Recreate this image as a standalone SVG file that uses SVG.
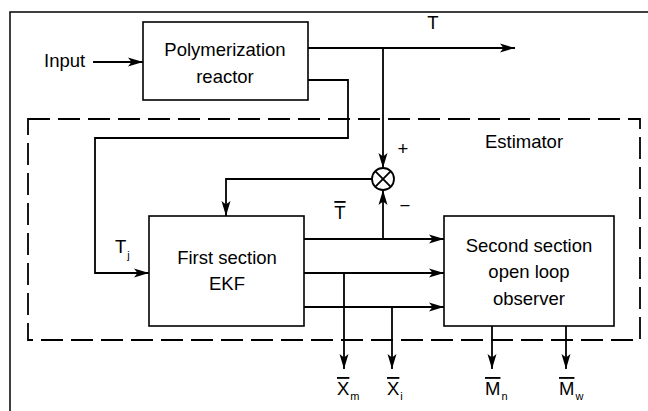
<svg xmlns="http://www.w3.org/2000/svg" width="648" height="411" viewBox="0 0 648 411">
<defs>
<marker id="arr" markerUnits="userSpaceOnUse" markerWidth="16" markerHeight="10" refX="15" refY="5" orient="auto">
<path d="M0,0.5 L15,5 L0,9.5 L3.5,5 Z" fill="#000"/>
</marker>
<style>
text{font-family:"Liberation Sans",Arial,sans-serif;font-size:18.5px;fill:#000}
.lbl{text-anchor:middle}
.sub{font-size:11px}
.ov{text-decoration:overline}
.box{fill:#fff;stroke:#000;stroke-width:1.6}
.c{fill:none;stroke:#000;stroke-width:1.8}
.ca{fill:none;stroke:#000;stroke-width:1.8;marker-end:url(#arr)}
</style>
</defs>
<rect width="648" height="411" fill="#fff"/>
<g id="frame">
<path d="M10,411 V12 H648" fill="none" stroke="#000" stroke-width="1.5"/>
</g>
<g id="estimator">
<rect x="28" y="119" width="612" height="221" fill="none" stroke="#000" stroke-width="1.8" stroke-dasharray="22,8"/>
<text class="lbl" x="524" y="148">Estimator</text>
</g>
<g id="connectors">
<path class="ca" d="M93,62 H143"/>
<path class="ca" d="M308,48 H515"/>
<path class="ca" d="M383,48 V168"/>
<path class="ca" d="M308,80 H348 V138 H95 V273 H149"/>
<path class="ca" d="M372,179 H226 V216"/>
<path class="ca" d="M304,239 H444"/>
<path class="ca" d="M304,273 H444"/>
<path class="ca" d="M304,307 H444"/>
<path class="ca" d="M383,239 V190"/>
<path class="ca" d="M344,273 V369"/>
<path class="ca" d="M392,307 V369"/>
<path class="ca" d="M492,326 V369"/>
<path class="ca" d="M566,326 V369"/>
</g>
<g id="input">
<text x="44" y="67">Input</text>
</g>
<g id="reactor">
<rect class="box" x="143" y="22" width="165" height="78"/>
<text class="lbl" x="225" y="56">Polymerization</text>
<text class="lbl" x="225" y="83">reactor</text>
</g>
<g id="sum">
<circle cx="383" cy="179" r="11" fill="#fff" stroke="#000" stroke-width="1.8"/>
<path class="c" d="M375.2,171.2 L390.8,186.8 M390.8,171.2 L375.2,186.8"/>
<text class="lbl" x="403" y="155">+</text>
<text class="lbl" x="405" y="212">−</text>
</g>
<g id="ekf">
<rect class="box" x="149" y="216" width="155" height="110"/>
<text class="lbl" x="227" y="264">First section</text>
<text class="lbl" x="227" y="290">EKF</text>
</g>
<g id="observer">
<rect class="box" x="444" y="216" width="170" height="110"/>
<text class="lbl" x="529" y="252">Second section</text>
<text class="lbl" x="529" y="278">open loop</text>
<text class="lbl" x="529" y="305">observer</text>
</g>
<g id="labels">
<text class="lbl" x="433" y="29">T</text>
<text x="115" y="253">T<tspan class="sub" dx="1" dy="6">j</tspan></text>
<text class="lbl" x="340" y="219"><tspan class="ov">T</tspan></text>
<text x="337" y="395"><tspan class="ov">X</tspan><tspan class="sub" dx="1" dy="5">m</tspan></text>
<text x="387" y="395"><tspan class="ov">X</tspan><tspan class="sub" dx="1" dy="5">i</tspan></text>
<text x="485" y="395"><tspan class="ov">M</tspan><tspan class="sub" dx="1" dy="5">n</tspan></text>
<text x="559" y="395"><tspan class="ov">M</tspan><tspan class="sub" dx="1" dy="5">w</tspan></text>
</g>
</svg>
